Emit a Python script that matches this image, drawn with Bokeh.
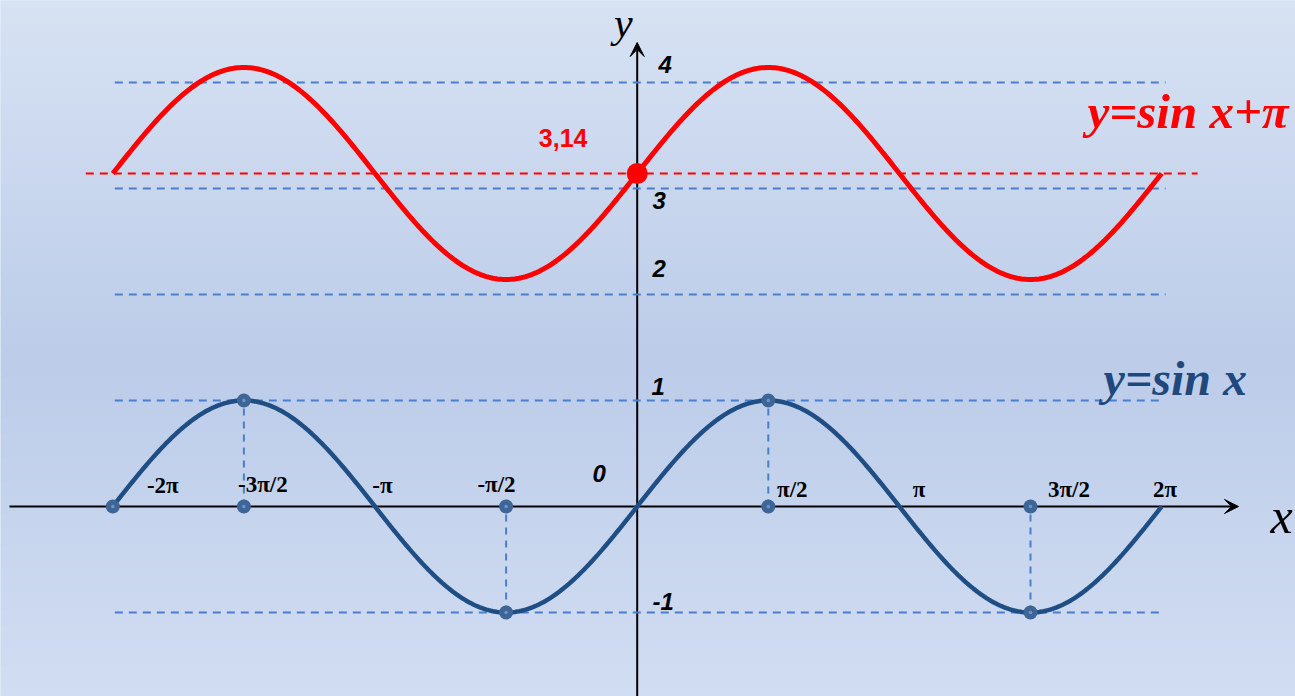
import numpy as np
from bokeh.plotting import figure
from bokeh.models import ColumnDataSource, Arrow, VeeHead
from bokeh.core.properties import value
from bokeh.embed import file_html
from bokeh.resources import INLINE

PI = np.pi

# ---------------- data ----------------
x_tick_values = [-2 * PI, -1.5 * PI, -PI, -0.5 * PI, 0.5 * PI, PI, 1.5 * PI, 2 * PI]
x_tick_labels = ["-2π", "-3π/2", "-π", "-π/2", "π/2", "π", "3π/2", "2π"]
y_tick_values = [4, 3, 2, 1, -1]
y_tick_labels = ["4", "3", "2", "1", "-1"]
origin_label = "0"
key_x = [-2 * PI, -1.5 * PI, -1.5 * PI, -0.5 * PI, -0.5 * PI, 0.5 * PI, 0.5 * PI, 1.5 * PI, 1.5 * PI]
key_y = [0, 1, 0, 0, -1, 1, 0, 0, -1]
drop_x = [-1.5 * PI, -0.5 * PI, 0.5 * PI, 1.5 * PI]
drop_top = [1, 0, 1, 0]
drop_bottom = [0, -1, 0, -1]
upper_levels = [4, 3, 2]
lower_levels = [1, -1]
shift = PI
shift_label = "3,14"
domain = [-2 * PI, 2 * PI]
label_shifted = "y=sin x+π"
label_base = "y=sin x"

curve_x = np.linspace(domain[0], domain[1], 481)
curve_sin = np.sin(curve_x)
curve_shift = np.sin(curve_x) + shift

# ---------------- layout ----------------
W, H = 1295, 696
PXX = 83.46          # px per x unit
PXY = 106.0          # px per y unit
OX = 636.7           # px of x=0
OY = 506.0           # px (from top) of y=0
x_range = (-OX / PXX, (W - OX) / PXX)
y_range = (-(H - OY) / PXY, OY / PXY)
LIFT = 0.33          # baseline correction (fraction of font size)


def up(dy, size):
    if isinstance(dy, list):
        return [d - LIFT * size for d in dy]
    return dy - LIFT * size


p = figure(width=W, height=H, x_range=x_range, y_range=y_range,
           x_axis_type=None, y_axis_type=None, output_backend="svg",
           toolbar_location=None, min_border=0)
p.outline_line_color = None
p.background_fill_color = "#c9d7ee"
p.border_fill_color = "#c9d7ee"

# background gradient (decoration)
stops_y = [0, 360, 696]
stops_c = [(0xd7, 0xe2, 0xf3), (0xbc, 0xcc, 0xe9), (0xd1, 0xdd, 0xf2)]
band_top, band_bot, band_col = [], [], []
for i in range(87):
    py = 8 * i
    pc = py + 4
    rgb = [int(round(np.interp(pc, stops_y, [c[k] for c in stops_c]))) for k in range(3)]
    band_col.append("#%02x%02x%02x" % tuple(rgb))
    band_top.append((OY - py) / PXY)
    band_bot.append((OY - (py + 9)) / PXY)
p.quad(left=x_range[0], right=x_range[1], top=band_top, bottom=band_bot,
       fill_color=band_col, line_color=None, level="image")

# axes with arrow heads
ax_tip_x = (1238 - OX) / PXX
ax_tip_y = (OY - 42) / PXY
p.add_layout(Arrow(end=VeeHead(size=14, fill_color="black", line_color="black"),
                   x_start=(9 - OX) / PXX, y_start=0, x_end=ax_tip_x, y_end=0,
                   line_color="black", line_width=2, level="underlay"))
p.add_layout(Arrow(end=VeeHead(size=14, fill_color="black", line_color="black"),
                   x_start=0, y_start=y_range[0], x_end=0, y_end=ax_tip_y,
                   line_color="black", line_width=2, level="underlay"))

# dashed guide lines
blue_dash = "#4a7fcb"
p.segment(x0=domain[0] + 2 / PXX, x1=domain[1] + 4 / PXX, y0=upper_levels, y1=upper_levels,
          line_color=blue_dash, line_width=2, line_dash="8 6")
p.segment(x0=domain[0] + 2 / PXX, x1=domain[1], y0=lower_levels, y1=lower_levels,
          line_color=blue_dash, line_width=2, line_dash="8 6")
p.segment(x0=drop_x, x1=drop_x, y0=drop_bottom, y1=drop_top,
          line_color=blue_dash, line_width=2, line_dash="7 6")
p.segment(x0=domain[0] - 27 / PXX, x1=domain[1] + 36 / PXX, y0=shift, y1=shift,
          line_color="#ff0000", line_width=2, line_dash="8 6")

# curves
p.line(curve_x, curve_sin, line_color="#1f4e85", line_width=4.5)
p.line(curve_x, curve_shift, line_color="#ff0000", line_width=5)

# key points
p.scatter(key_x, key_y, marker="circle", size=14, fill_color="#3d6596", line_color=None)
p.scatter(key_x, key_y, marker="circle", size=3.5, fill_color="#6b95cf", line_color=None)
p.scatter([0], [shift], marker="circle", size=21, fill_color="#ff0000", line_color=None)

# x tick labels
xt = ColumnDataSource(dict(x=x_tick_values, y=[0] * len(x_tick_values), t=x_tick_labels,
                           dx=[50, 19, 7.5, -9.6, 24, 19.6, 38.5, 3.5],
                           dy=up([-13, -14, -13, -14, -9, -9, -9, -9], 23)))
p.text(x="x", y="y", text="t", x_offset="dx", y_offset="dy", source=xt,
       text_font=value("Liberation Serif"), text_font_style="bold", text_font_size="23px",
       text_align="center", text_baseline="alphabetic", text_color="black")

# y tick labels
yt = ColumnDataSource(dict(x=[0] * len(y_tick_values), y=y_tick_values, t=y_tick_labels,
                           dx=[28, 22, 22, 21, 26], dy=up([-10, 20, -18, -6, -3], 24)))
p.text(x="x", y="y", text="t", x_offset="dx", y_offset="dy", source=yt,
       text_font=value("Liberation Sans"), text_font_style="bold italic", text_font_size="24px",
       text_align="center", text_baseline="alphabetic", text_color="black")
p.text(x=[0], y=[0], text=[origin_label], x_offset=-38, y_offset=up(-25, 24),
       text_font=value("Liberation Sans"), text_font_style="bold italic", text_font_size="24px",
       text_align="center", text_baseline="alphabetic", text_color="black")

# 3,14 label
p.text(x=[0], y=[shift], text=[shift_label], x_offset=-74, y_offset=up(-27, 25),
       text_font=value("Liberation Sans"), text_font_style="bold", text_font_size="25px",
       text_align="center", text_baseline="alphabetic", text_color="#ff0000")

# axis names
p.text(x=[0], y=[ax_tip_y], text=["y"], x_offset=-14, y_offset=up(-6, 42),
       text_font=value("Liberation Serif"), text_font_style="italic", text_font_size="42px",
       text_align="center", text_baseline="alphabetic", text_color="black")
p.text(x=[ax_tip_x], y=[0], text=["x"], x_offset=43, y_offset=up(26, 50),
       text_font=value("Liberation Serif"), text_font_style="italic", text_font_size="50px",
       text_align="center", text_baseline="alphabetic", text_color="black")

# function labels
p.text(x=[domain[1]], y=[shift], text=[label_shifted], x_offset=-74, y_offset=up(-46, 49),
       text_font=value("Liberation Serif"), text_font_style="bold italic", text_font_size="49px",
       text_align="left", text_baseline="alphabetic", text_color="#ff0000")
p.text(x=[domain[1]], y=[1], text=[label_base], x_offset=-58, y_offset=up(-6, 48),
       text_font=value("Liberation Serif"), text_font_style="bold italic", text_font_size="48px",
       text_align="left", text_baseline="alphabetic", text_color="#1f497d")

open("out.html", "w").write(file_html(p, INLINE))
